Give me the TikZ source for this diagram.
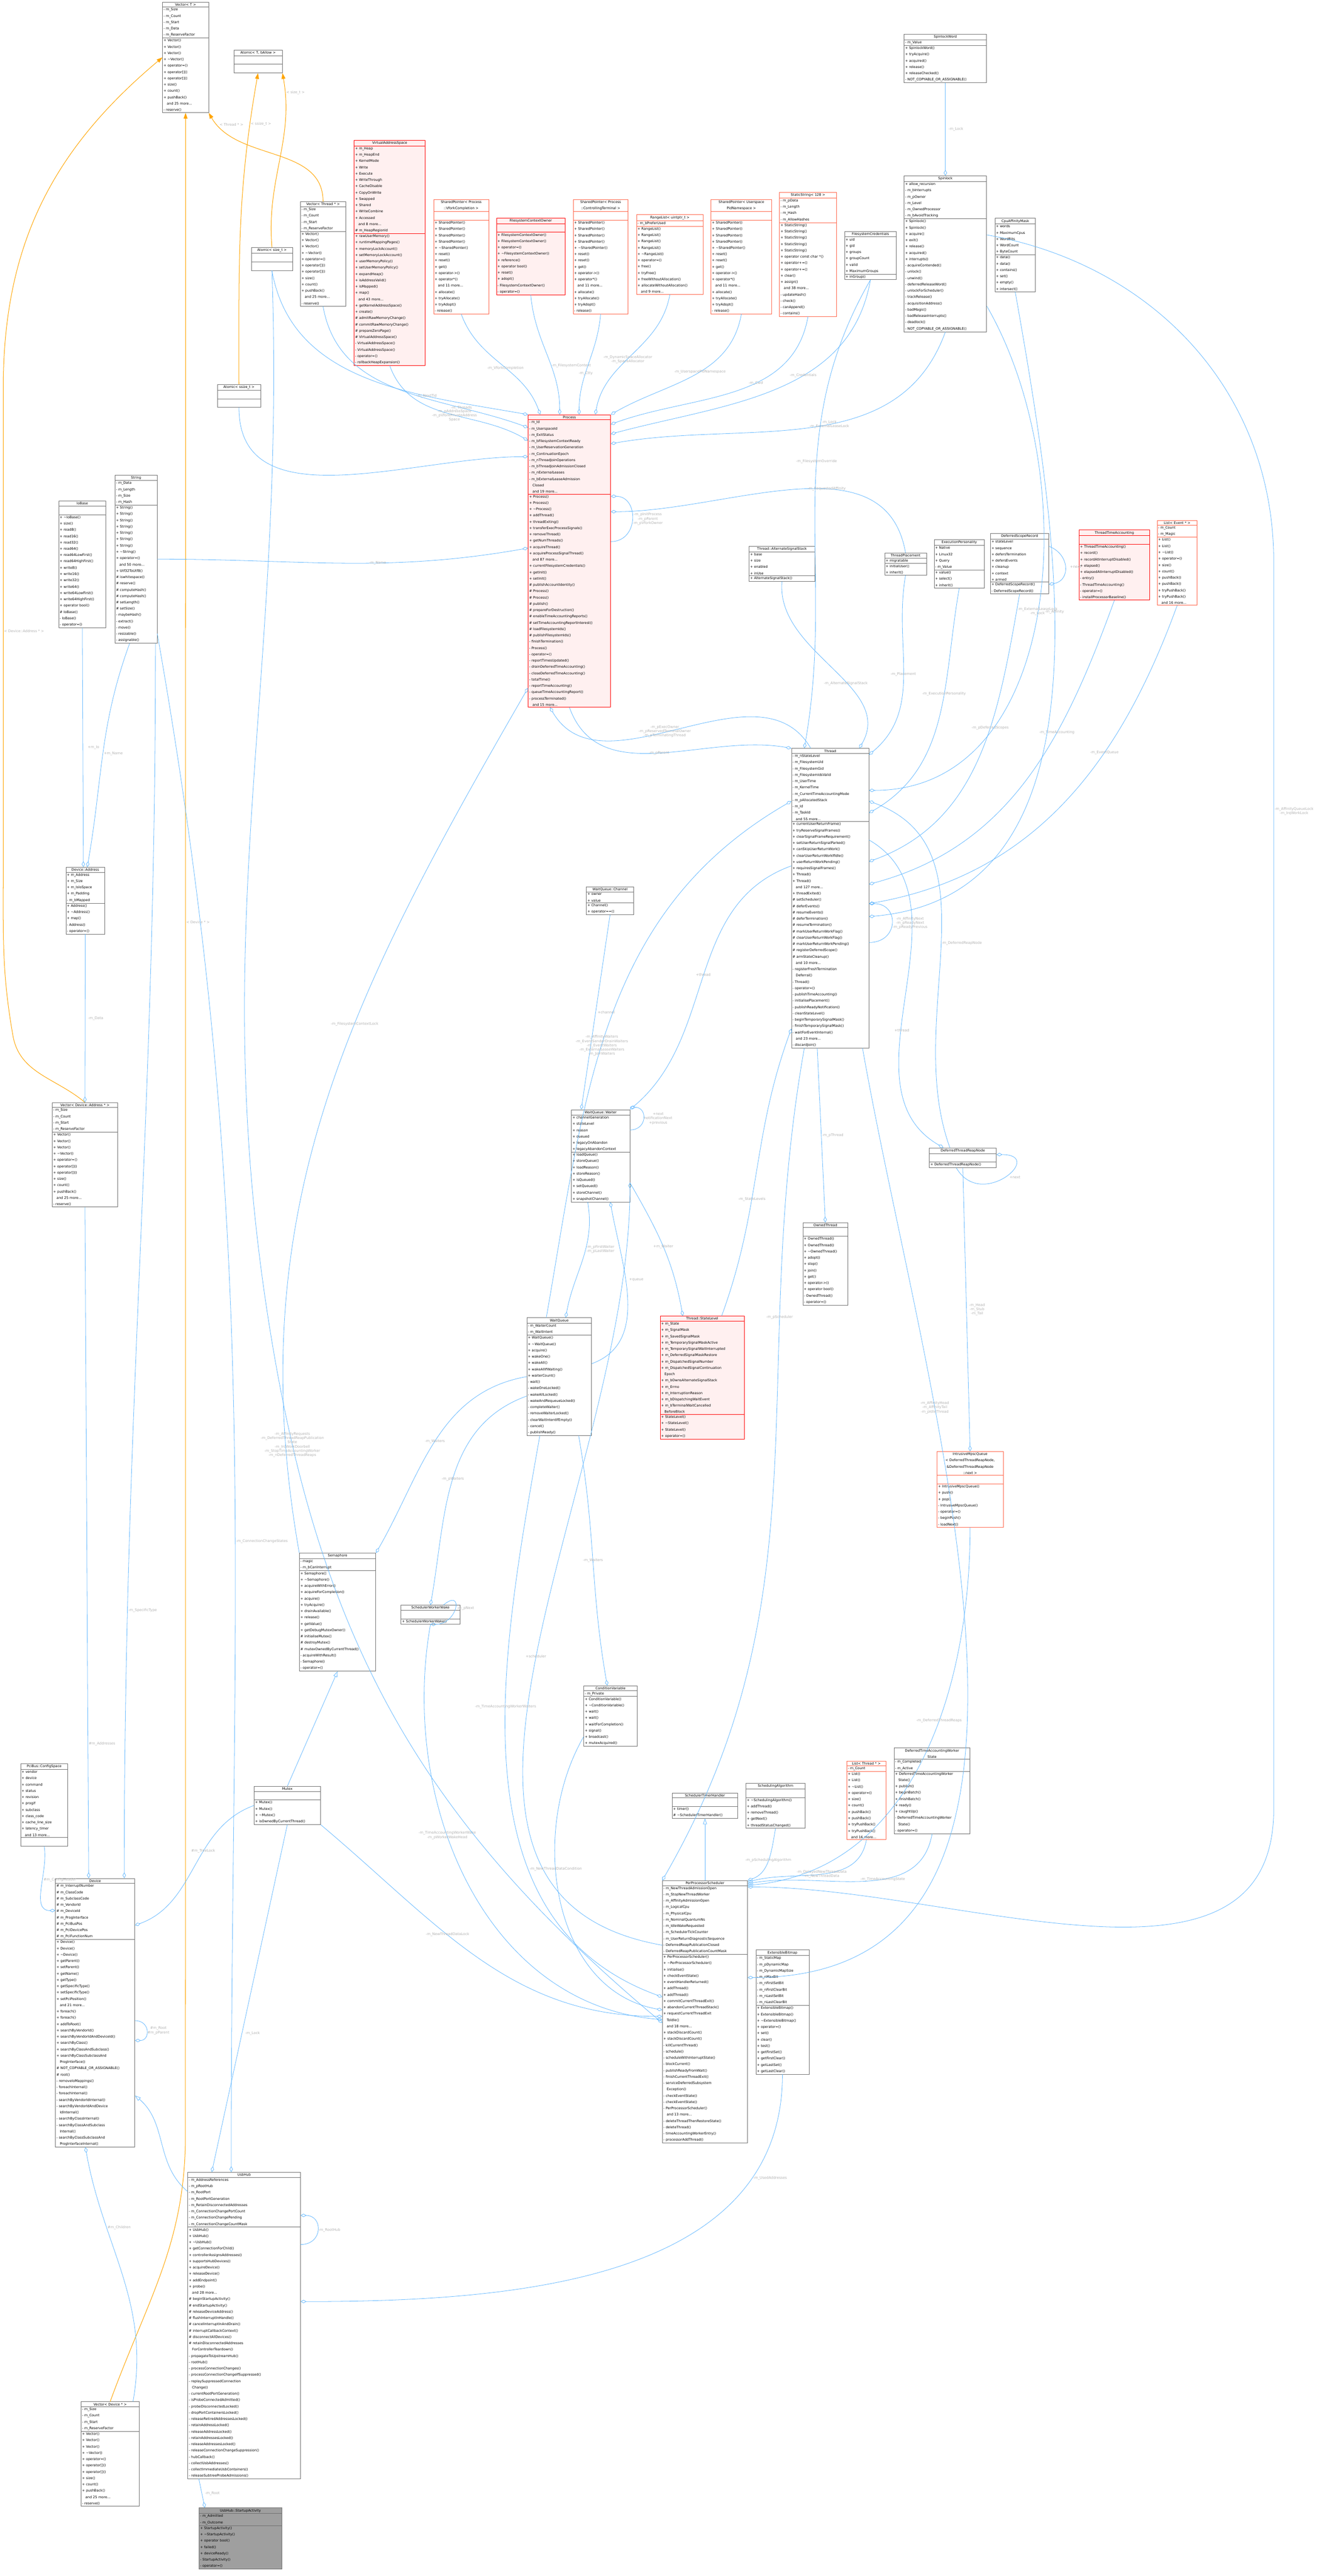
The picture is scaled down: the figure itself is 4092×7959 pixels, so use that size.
\documentclass[border=0pt]{standalone}
\usepackage{tikz}
\usepackage{fontspec}
\setmainfont{DejaVu Sans}
\usetikzlibrary{shapes.multipart,arrows.meta}
\definecolor{edgeblue}{RGB}{99,184,255}
\definecolor{boxgray}{RGB}{110,110,110}
\definecolor{pinkfill}{RGB}{255,240,240}
\definecolor{orangered}{RGB}{255,99,71}
\definecolor{tmplor}{RGB}{255,165,0}
\newcommand\cf{\fontsize{0.164}{0.3047}\selectfont}
\newcommand\lf{\fontsize{0.172}{0.203}\selectfont}
\newcommand\ttl[1]{{\centering #1\par}}
\tikzset{
 cls/.style={rectangle split, rectangle split parts=3, draw=boxgray, fill=white, line width=0.018pt,
   /utils/exec={\pgfmathsetlengthmacro\clsw{#1/64}}, text width=\clsw, align=left, inner sep=0.047pt, anchor=north west, font=\cf},
 redc/.style={draw=red, fill=pinkfill},
 orc/.style={draw=orangered},
 grayc/.style={fill=gray!75},
 agg/.style={draw=edgeblue, line width=0.02pt, -{Diamond[open,length=0.28pt,width=0.16pt,line width=0.02pt]}},
 inh/.style={draw=edgeblue, line width=0.02pt, -{Triangle[open,length=0.28pt,width=0.19pt,line width=0.02pt]}},
 tmpl/.style={draw=tmplor, line width=0.025pt, -{Triangle[length=0.28pt,width=0.19pt]}},
 lbl/.style={font=\lf, text=gray!60, align=center, fill=none, inner sep=0.03pt}
}
\begin{document}
\scalebox{64}{%
\begin{tikzpicture}[x=0.015625pt,y=-0.015625pt]
\useasboundingbox (0,0) rectangle (4092,7959);
\fill[white] (0,0) rectangle (4092,7959);
% ---------- top row
\node[cls=136pt] (VecT) at (502,6) {\ttl{Vector< T >}\nodepart{two}- m\_Size\\- m\_Count\\- m\_Start\\- m\_Data\\- m\_ReserveFactor\nodepart{three}+ Vector()\\+ Vector()\\+ Vector()\\+ \textasciitilde Vector()\\+ operator=()\\+ operator[]()\\+ operator[]()\\+ size()\\+ count()\\+ pushBack()\\\ \ \ and 25 more...\\- reserve()};
\node[cls=144pt] (AtomicT) at (722,155) {\ttl{Atomic< T, bAllow >}\nodepart{two}\strut\nodepart{three}\strut};
\node[cls=214pt,redc] (VAS) at (1094,433) {\ttl{VirtualAddressSpace}\nodepart{two}+ m\_Heap\\+ m\_HeapEnd\\+ KernelMode\\+ Write\\+ Execute\\+ WriteThrough\\+ CacheDisable\\+ CopyOnWrite\\+ Swapped\\+ Shared\\+ WriteCombine\\+ Accessed\\\ \ \ and 8 more...\\\# m\_HeapRegionId\nodepart{three}+ rawUserMemory()\\+ runtimeMappingPages()\\+ memoryLockAccount()\\+ setMemoryLockAccount()\\+ userMemoryPolicy()\\+ setUserMemoryPolicy()\\+ expandHeap()\\+ isAddressValid()\\+ isMapped()\\+ map()\\\ \ \ and 43 more...\\+ getKernelAddressSpace()\\+ create()\\\# admitRawMemoryChange()\\\# commitRawMemoryChange()\\\# prepareZeroPage()\\\# VirtualAddressSpace()\\- VirtualAddressSpace()\\- VirtualAddressSpace()\\- operator=()\\- rollbackHeapExpansion()};
\node[cls=134pt] (VecThr) at (928,623) {\ttl{Vector< Thread * >}\nodepart{two}- m\_Size\\- m\_Count\\- m\_Start\\- m\_ReserveFactor\nodepart{three}+ Vector()\\+ Vector()\\+ Vector()\\+ \textasciitilde Vector()\\+ operator=()\\+ operator[]()\\+ operator[]()\\+ size()\\+ count()\\+ pushBack()\\\ \ \ and 25 more...\\- reserve()};
\node[cls=122pt] (AtomicS) at (776,764) {\ttl{Atomic< size\_t >}\nodepart{two}\strut\nodepart{three}\strut};
\node[cls=128pt] (AtomicSS) at (671,1187) {\ttl{Atomic< ssize\_t >}\nodepart{two}\strut\nodepart{three}\strut};
\node[cls=164pt,orc] (SPV) at (1340,616) {\ttl{SharedPointer< Process\\::VforkCompletion >}\nodepart{two}\strut\nodepart{three}+ SharedPointer()\\+ SharedPointer()\\+ SharedPointer()\\+ SharedPointer()\\+ \textasciitilde SharedPointer()\\+ reset()\\+ reset()\\+ get()\\+ operator->()\\+ operator*()\\\ \ \ and 11 more...\\+ allocate()\\+ tryAllocate()\\+ tryAdopt()\\- release()};
\node[cls=206pt,redc] (FSCO) at (1534,673) {\ttl{FilesystemContextOwner}\nodepart{two}\strut\nodepart{three}+ FilesystemContextOwner()\\+ FilesystemContextOwner()\\+ operator=()\\+ \textasciitilde FilesystemContextOwner()\\+ reference()\\+ operator bool()\\+ reset()\\+ adopt()\\- FilesystemContextOwner()\\- operator=()};
\node[cls=164pt,orc] (SPC) at (1771,616) {\ttl{SharedPointer< Process\\::ControllingTerminal >}\nodepart{two}\strut\nodepart{three}+ SharedPointer()\\+ SharedPointer()\\+ SharedPointer()\\+ SharedPointer()\\+ \textasciitilde SharedPointer()\\+ reset()\\+ reset()\\+ get()\\+ operator->()\\+ operator*()\\\ \ \ and 11 more...\\+ allocate()\\+ tryAllocate()\\+ tryAdopt()\\- release()};
\node[cls=200pt,orc] (RL) at (1967,663) {\ttl{RangeList< uintptr\_t >}\nodepart{two}- m\_bPreferUsed\nodepart{three}+ RangeList()\\+ RangeList()\\+ RangeList()\\+ RangeList()\\+ \textasciitilde RangeList()\\+ operator=()\\+ free()\\+ tryFree()\\+ freeWithoutAllocation()\\+ allocateWithoutAllocation()\\\ \ \ and 9 more...};
\node[cls=182pt,orc] (SPU) at (2197,616) {\ttl{SharedPointer< Userspace\\PidNamespace >}\nodepart{two}\strut\nodepart{three}+ SharedPointer()\\+ SharedPointer()\\+ SharedPointer()\\+ SharedPointer()\\+ \textasciitilde SharedPointer()\\+ reset()\\+ reset()\\+ get()\\+ operator->()\\+ operator*()\\\ \ \ and 11 more...\\+ allocate()\\+ tryAllocate()\\+ tryAdopt()\\- release()};
\node[cls=170pt,orc] (SS) at (2409,594) {\ttl{StaticString< 128 >}\nodepart{two}- m\_pData\\- m\_Length\\- m\_Hash\\- m\_AllowHashes\nodepart{three}+ StaticString()\\+ StaticString()\\+ StaticString()\\+ StaticString()\\+ StaticString()\\+ operator const char *()\\+ operator+=()\\+ operator+=()\\+ clear()\\+ assign()\\\ \ \ and 38 more...\\- updateHash()\\- check()\\- canAppend()\\- contains()};
\node[cls=154pt] (FSC) at (2610,714) {\ttl{FilesystemCredentials}\nodepart{two}+ uid\\+ gid\\+ groups\\+ groupCount\\+ valid\\+ MaximumGroups\nodepart{three}+ inGroup()};
\node[cls=249pt] (SLW) at (2794,105) {\ttl{SpinlockWord}\nodepart{two}- m\_Value\nodepart{three}+ SpinlockWord()\\+ tryAcquire()\\+ acquired()\\+ release()\\+ releaseChecked()\\- NOT\_COPYABLE\_OR\_ASSIGNABLE()};
\node[cls=249pt] (SL) at (2794,543) {\ttl{Spinlock}\nodepart{two}+ allow\_recursion\\- m\_bInterrupts\\- m\_pOwner\\- m\_Level\\- m\_OwnedProcessor\\- m\_bAvoidTracking\nodepart{three}+ Spinlock()\\+ Spinlock()\\+ acquire()\\+ exit()\\+ release()\\+ acquired()\\+ interrupts()\\- acquireContended()\\- unlock()\\- unwind()\\- deferredReleaseWord()\\- unlockForScheduler()\\- trackRelease()\\- acquisitionAddress()\\- badMagic()\\- badReleaseInterrupts()\\- deadlock()\\- NOT\_COPYABLE\_OR\_ASSIGNABLE()};
\node[cls=119pt] (CAM) at (3075,674) {\ttl{CpuAffinityMask}\nodepart{two}+ words\\+ MaximumCpus\\+ WordBits\\+ WordCount\\+ ByteCount\nodepart{three}+ data()\\+ data()\\+ contains()\\+ set()\\+ empty()\\+ intersect()};
% ---------- Process
\node[cls=249pt,redc] (Proc) at (1632,1281) {\ttl{Process}\nodepart{two}- m\_Id\\- m\_UserspaceId\\- m\_ExitStatus\\- m\_bFilesystemContextReady\\- m\_UserReservationGeneration\\- m\_ContinuationEpoch\\- m\_nThreadJoinOperations\\- m\_bThreadJoinAdmissionClosed\\- m\_nExternalLeases\\- m\_bExternalLeaseAdmission\\\ \ \ Closed\\\ \ \ and 19 more...\nodepart{three}+ Process()\\+ Process()\\+ \textasciitilde Process()\\+ addThread()\\+ threadExiting()\\+ transferExecProcessSignals()\\+ removeThread()\\+ getNumThreads()\\+ acquireThread()\\+ acquireProcessSignalThread()\\\ \ \ and 87 more...\\+ currentFilesystemCredentials()\\+ getInit()\\+ setInit()\\\# publishAccountIdentity()\\\# Process()\\\# Process()\\\# publish()\\\# prepareForDestruction()\\\# enableTimeAccountingReports()\\\# setTimeAccountingReportInterest()\\\# loadFilesystemIds()\\\# publishFilesystemIds()\\- finishTermination()\\- Process()\\- operator=()\\- reportTimesUpdated()\\- drainDeferredTimeAccounting()\\- closeDeferredTimeAccounting()\\- totalTime()\\- reportTimeAccounting()\\- queueTimeAccountingReport()\\- processTerminated()\\\ \ \ and 15 more...};
% ---------- middle row right
\node[cls=197pt] (ASS) at (2315,1687) {\ttl{Thread::AlternateSignalStack}\nodepart{two}+ base\\+ size\\+ enabled\\+ inUse\nodepart{three}+ AlternateSignalStack()};
\node[cls=123pt] (TP) at (2734,1708) {\ttl{ThreadPlacement}\nodepart{two}+ migratable\nodepart{three}+ initialUser()\\+ inherit()};
\node[cls=149pt] (EP) at (2887,1667) {\ttl{ExecutionPersonality}\nodepart{two}+ Native\\+ Linux32\\+ Query\\- m\_Value\nodepart{three}+ value()\\+ select()\\+ inherit()};
\node[cls=174pt] (DSR) at (3061,1648) {\ttl{DeferredScopeRecord}\nodepart{two}+ stateLevel\\+ sequence\\+ defersTermination\\+ defersEvents\\+ cleanup\\+ context\\+ armed\nodepart{three}+ DeferredScopeRecord()\\- DeferredScopeRecord()};
\node[cls=212pt,redc] (TTA) at (3335,1637) {\ttl{ThreadTimeAccounting}\nodepart{two}\strut\nodepart{three}+ ThreadTimeAccounting()\\+ record()\\+ recordAtInterruptDisabled()\\+ elapsed()\\+ elapsedAtInterruptDisabled()\\- entry()\\- ThreadTimeAccounting()\\- operator=()\\- installProcessorBaseline()};
\node[cls=118pt,orc] (LE) at (3576,1607) {\ttl{List< Event * >}\nodepart{two}- m\_Count\\- m\_Magic\nodepart{three}+ List()\\+ List()\\+ \textasciitilde List()\\+ operator=()\\+ size()\\+ count()\\+ pushBack()\\+ pushBack()\\+ tryPushBack()\\+ tryPushBack()\\\ \ \ and 16 more...};
% ---------- left column
\node[cls=140pt] (Io) at (181,1548) {\ttl{IoBase}\nodepart{two}\strut\nodepart{three}+ \textasciitilde IoBase()\\+ size()\\+ read8()\\+ read16()\\+ read32()\\+ read64()\\+ read64LowFirst()\\+ read64HighFirst()\\+ write8()\\+ write16()\\+ write32()\\+ write64()\\+ write64LowFirst()\\+ write64HighFirst()\\+ operator bool()\\\# IoBase()\\- IoBase()\\- operator=()};
\node[cls=124pt] (Str) at (355,1467) {\ttl{String}\nodepart{two}- m\_Data\\- m\_Length\\- m\_Size\\- m\_Hash\nodepart{three}+ String()\\+ String()\\+ String()\\+ String()\\+ String()\\+ String()\\+ String()\\+ \textasciitilde String()\\+ operator=()\\\ \ \ and 50 more...\\+ Utf32ToUtf8()\\\# iswhitespace()\\\# reserve()\\\# computeHash()\\\# computeHash()\\\# setLength()\\\# setSize()\\- maybeHash()\\- extract()\\- move()\\- resizable()\\- assignable()};
\node[cls=114pt] (DA) at (203,2679) {\ttl{Device::Address}\nodepart{two}+ m\_Address\\+ m\_Size\\+ m\_IsIoSpace\\+ m\_Padding\\- m\_bMapped\nodepart{three}+ Address()\\+ \textasciitilde Address()\\+ map()\\- Address()\\- operator=()};
\node[cls=196pt] (VDA) at (161,3406) {\ttl{Vector< Device::Address * >}\nodepart{two}- m\_Size\\- m\_Count\\- m\_Start\\- m\_ReserveFactor\nodepart{three}+ Vector()\\+ Vector()\\+ Vector()\\+ \textasciitilde Vector()\\+ operator=()\\+ operator[]()\\+ operator[]()\\+ size()\\+ count()\\+ pushBack()\\\ \ \ and 25 more...\\- reserve()};
% ---------- Thread
\node[cls=233pt] (Thr) at (2446,2312) {\ttl{Thread}\nodepart{two}- m\_nStateLevel\\- m\_FilesystemUid\\- m\_FilesystemGid\\- m\_FilesystemIdsValid\\- m\_UserTime\\- m\_KernelTime\\- m\_CurrentTimeAccountingMode\\- m\_pAllocatedStack\\- m\_Id\\- m\_TaskId\\\ \ \ and 55 more...\nodepart{three}+ currentUserReturnFrame()\\+ tryReserveSignalFrames()\\+ clearSignalFrameRequirement()\\+ setUserReturnSignalParked()\\+ canSkipUserReturnWork()\\+ clearUserReturnWorkIfIdle()\\+ userReturnWorkPending()\\+ requiresSignalFrames()\\+ Thread()\\+ Thread()\\\ \ \ and 127 more...\\+ threadExited()\\\# setScheduler()\\\# deferEvents()\\\# resumeEvents()\\\# deferTermination()\\\# resumeTermination()\\\# markUserReturnWorkFlag()\\\# clearUserReturnWorkFlag()\\\# markUserReturnWorkPending()\\\# registerDeferredScope()\\\# armStateCleanup()\\\ \ \ and 10 more...\\- registerFreshTermination\\\ \ \ Deferral()\\- Thread()\\- operator=()\\- publishTimeAccounting()\\- initialisePlacement()\\- publishReadyNotification()\\- cleanStateLevel()\\- beginTemporarySignalMask()\\- finishTemporarySignalMask()\\- waitForEventInternal()\\\ \ \ and 23 more...\\- discardJoin()};
\node[cls=140pt] (Ch) at (1812,2739) {\ttl{WaitQueue::Channel}\nodepart{two}+ owner\\+ value\nodepart{three}+ Channel()\\+ operator==()};
\node[cls=174pt] (Wt) at (1766,3428) {\ttl{WaitQueue::Waiter}\nodepart{two}+ channelGeneration\\+ stateLevel\\+ reason\\+ queued\\+ legacyOnAbandon\\+ legacyAbandonContext\nodepart{three}+ loadQueue()\\+ storeQueue()\\+ loadReason()\\+ storeReason()\\+ isQueued()\\+ setQueued()\\+ storeChannel()\\+ snapshotChannel()};
\node[cls=201pt] (DTRN) at (2872,3546) {\ttl{DeferredThreadReapNode}\nodepart{two}\strut\nodepart{three}+ DeferredThreadReapNode()};
\node[cls=133pt] (OT) at (2481,3777) {\ttl{OwnedThread}\nodepart{two}\strut\nodepart{three}+ OwnedThread()\\+ OwnedThread()\\+ \textasciitilde OwnedThread()\\+ adopt()\\+ stop()\\+ join()\\+ get()\\+ operator->()\\+ operator bool()\\- OwnedThread()\\- operator=()};
\node[cls=254pt,redc] (StL) at (2040,4066) {\ttl{Thread::StateLevel}\nodepart{two}+ m\_State\\+ m\_SignalMask\\+ m\_SavedSignalMask\\+ m\_TemporarySignalMaskActive\\+ m\_TemporarySignalWaitInterrupted\\+ m\_DeferredSignalMaskRestore\\+ m\_DispatchedSignalNumber\\+ m\_DispatchedSignalContinuation\\\ \ \ Epoch\\+ m\_bOwnsAlternateSignalStack\\+ m\_Errno\\+ m\_InterruptionReason\\+ m\_bDispatchingWaitEvent\\+ m\_bTerminalWaitCancelled\\\ \ \ BeforeBlock\nodepart{three}+ StateLevel()\\+ \textasciitilde StateLevel()\\+ StateLevel()\\+ operator=()};
\node[cls=198pt,orc] (IMQ) at (2896,4484) {\ttl{IntrusiveMpscQueue\\< DeferredThreadReapNode,\\ \&DeferredThreadReapNode\\::next >}\nodepart{two}\strut\nodepart{three}+ IntrusiveMpscQueue()\\+ push()\\+ pop()\\- IntrusiveMpscQueue()\\- operator=()\\- beginPush()\\- loadNext()};
\node[cls=194pt] (WQ) at (1628,4071) {\ttl{WaitQueue}\nodepart{two}- m\_WaiterCount\\- m\_WaitIntent\nodepart{three}+ WaitQueue()\\+ \textasciitilde WaitQueue()\\+ acquire()\\+ wakeOne()\\+ wakeAll()\\+ wakeAllIfWaiting()\\+ waiterCount()\\- wait()\\- wakeOneLocked()\\- wakeAllLocked()\\- wakeAndRequeueLocked()\\- completeWaiter()\\- removeWaiterLocked()\\- clearWaitIntentIfEmpty()\\- cancel()\\- publishReady()};
\node[cls=230pt] (Sem) at (925,4798) {\ttl{Semaphore}\nodepart{two}- magic\\- m\_bCanInterrupt\nodepart{three}+ Semaphore()\\+ \textasciitilde Semaphore()\\+ acquireWithError()\\+ acquireForCompletion()\\+ acquire()\\+ tryAcquire()\\+ drainAvailable()\\+ release()\\+ getValue()\\+ getDebugMutexOwner()\\\# initialiseMutex()\\\# destroyMutex()\\\# mutexOwnedByCurrentThread()\\- acquireWithResult()\\- Semaphore()\\- operator=()};
\node[cls=176pt] (SWW) at (1239,4959) {\ttl{SchedulerWorkerWake}\nodepart{two}\strut\nodepart{three}+ SchedulerWorkerWake()};
\node[cls=159pt] (CV) at (1804,5208) {\ttl{ConditionVariable}\nodepart{two}- m\_Private\nodepart{three}+ ConditionVariable()\\+ \textasciitilde ConditionVariable()\\+ wait()\\+ wait()\\+ waitForCompletion()\\+ signal()\\+ broadcast()\\+ mutexAcquired()};
\node[cls=199pt] (Mtx) at (785,5519) {\ttl{Mutex}\nodepart{two}\strut\nodepart{three}+ Mutex()\\+ Mutex()\\+ \textasciitilde Mutex()\\+ isOwnedByCurrentThread()};
\node[cls=197pt] (STH) at (2077,5539) {\ttl{SchedulerTimerHandler}\nodepart{two}\strut\nodepart{three}+ timer()\\\# \textasciitilde SchedulerTimerHandler()};
\node[cls=177pt] (SA) at (2305,5509) {\ttl{SchedulingAlgorithm}\nodepart{two}\strut\nodepart{three}+ \textasciitilde SchedulingAlgorithm()\\+ addThread()\\+ removeThread()\\+ getNext()\\+ threadStatusChanged()};
\node[cls=115pt,orc] (LT) at (2617,5440) {\ttl{List< Thread * >}\nodepart{two}- m\_Count\nodepart{three}+ List()\\+ List()\\+ \textasciitilde List()\\+ operator=()\\+ size()\\+ count()\\+ pushBack()\\+ pushBack()\\+ tryPushBack()\\+ tryPushBack()\\\ \ \ and 16 more...};
\node[cls=229pt] (DTA) at (2763,5400) {\ttl{DeferredTimeAccountingWorker\\State}\nodepart{two}- m\_Completed\\- m\_Active\nodepart{three}+ DeferredTimeAccountingWorker\\\ \ \ State()\\+ publish()\\+ beginBatch()\\+ finishBatch()\\+ ready()\\+ caughtUp()\\- DeferredTimeAccountingWorker\\\ \ \ State()\\- operator=()};
\node[cls=257pt] (PPS) at (2047,5810) {\ttl{PerProcessorScheduler}\nodepart{two}- m\_NewThreadAdmissionOpen\\- m\_StopNewThreadWorker\\- m\_AffinityAdmissionOpen\\- m\_LogicalCpu\\- m\_PhysicalCpu\\- m\_NominalQuantumNs\\- m\_IdleWakeRequested\\- m\_SchedulerTickCounter\\- m\_UserReturnDiagnosticSequence\\- DeferredReapPublicationClosed\\- DeferredReapPublicationCountMask\nodepart{three}+ PerProcessorScheduler()\\+ \textasciitilde PerProcessorScheduler()\\+ initialise()\\+ checkEventState()\\+ eventHandlerReturned()\\+ addThread()\\+ addThread()\\+ commitCurrentThreadExit()\\+ abandonCurrentThreadStack()\\+ requestCurrentThreadExit\\\ \ \ ToIdle()\\\ \ \ and 18 more...\\+ stackDiscardCount()\\+ stackDiscardCount()\\- killCurrentThread()\\- schedule()\\- scheduleWithInterruptState()\\- blockCurrent()\\- publishReadyFromWait()\\- finishCurrentThreadExit()\\- serviceDeferredSubsystem\\\ \ \ Exception()\\- checkEventState()\\- checkEventState()\\- PerProcessorScheduler()\\\ \ \ and 13 more...\\- deleteThreadThenRestoreState()\\- deleteThread()\\- timeAccountingWorkerEntry()\\- processorAddThread()};
\node[cls=158pt] (EB) at (2336,6024) {\ttl{ExtensibleBitmap}\nodepart{two}- m\_StaticMap\\- m\_pDynamicMap\\- m\_DynamicMapSize\\- m\_nMaxBit\\- m\_nFirstSetBit\\- m\_nFirstClearBit\\- m\_nLastSetBit\\- m\_nLastClearBit\nodepart{three}+ ExtensibleBitmap()\\+ ExtensibleBitmap()\\+ \textasciitilde ExtensibleBitmap()\\+ operator=()\\+ set()\\+ clear()\\+ test()\\+ getFirstSet()\\+ getFirstClear()\\+ getLastSet()\\+ getLastClear()};
% ---------- bottom left
\node[cls=140pt] (Pci) at (63,5449) {\ttl{PciBus::ConfigSpace}\nodepart{two}+ vendor\\+ device\\+ command\\+ status\\+ revision\\+ progif\\+ subclass\\+ class\_code\\+ cache\_line\_size\\+ latency\_timer\\\ \ \ and 13 more...\nodepart{three}\strut};
\node[cls=239pt] (Dev) at (171,5803) {\ttl{Device}\nodepart{two}\# m\_InterruptNumber\\\# m\_ClassCode\\\# m\_SubclassCode\\\# m\_VendorId\\\# m\_DeviceId\\\# m\_ProgInterface\\\# m\_PciBusPos\\\# m\_PciDevicePos\\\# m\_PciFunctionNum\nodepart{three}+ Device()\\+ Device()\\+ \textasciitilde Device()\\+ getParent()\\+ setParent()\\+ getName()\\+ getType()\\+ getSpecificType()\\+ setSpecificType()\\+ setPciPosition()\\\ \ \ and 21 more...\\+ foreach()\\+ foreach()\\+ addToRoot()\\+ searchByVendorId()\\+ searchByVendorIdAndDeviceId()\\+ searchByClass()\\+ searchByClassAndSubclass()\\+ searchByClassSubclassAnd\\\ \ \ ProgInterface()\\\# NOT\_COPYABLE\_OR\_ASSIGNABLE()\\\# root()\\- removeIoMappings()\\- foreachInternal()\\- foreachInternal()\\- searchByVendorIdInternal()\\- searchByVendorIdAndDevice\\\ \ \ IdInternal()\\- searchByClassInternal()\\- searchByClassAndSubclass\\\ \ \ Internal()\\- searchByClassSubclassAnd\\\ \ \ ProgInterfaceInternal()};
\node[cls=174pt] (VD) at (250,7420) {\ttl{Vector< Device * >}\nodepart{two}- m\_Size\\- m\_Count\\- m\_Start\\- m\_ReserveFactor\nodepart{three}+ Vector()\\+ Vector()\\+ Vector()\\+ \textasciitilde Vector()\\+ operator=()\\+ operator[]()\\+ operator[]()\\+ size()\\+ count()\\+ pushBack()\\\ \ \ and 25 more...\\- reserve()};
\node[cls=342pt] (Usb) at (580,6711) {\ttl{UsbHub}\nodepart{two}- m\_AddressReferences\\- m\_pRootHub\\- m\_RootPort\\- m\_RootPortGeneration\\- m\_RetainDisconnectedAddresses\\- m\_ConnectionChangePortCount\\- m\_ConnectionChangePending\\- m\_ConnectionChangeCountMask\nodepart{three}+ UsbHub()\\+ UsbHub()\\+ \textasciitilde UsbHub()\\+ getConnectionForChild()\\+ controllerAssignsAddresses()\\+ supportsHubDevices()\\+ acquireDevice()\\+ releaseDevice()\\+ addEndpoint()\\+ probe()\\\ \ \ and 28 more...\\\# beginStartupActivity()\\\# endStartupActivity()\\\# releaseDeviceAddress()\\\# flushInterruptInHandle()\\\# cancelInterruptInAndDrain()\\\# interruptCallbackContext()\\\# disconnectAllDevices()\\\# retainDisconnectedAddresses\\\ \ \ ForControllerTeardown()\\- propagateToUpstreamHub()\\- rootHub()\\- processConnectionChanges()\\- processConnectionChangeIfSuppressed()\\- replaySuppressedConnection\\\ \ \ Change()\\- currentRootPortGeneration()\\- isProbeConnectedAdmitted()\\- probeDisconnectedLocked()\\- dropPortContainersLocked()\\- releaseRetiredAddressesLocked()\\- retainAddressLocked()\\- releaseAddressLocked()\\- retainAddressesLocked()\\- releaseAddressesLocked()\\- releaseConnectionChangeSuppression()\\- hubCallback()\\- collectUsbAddresses()\\- collectImmediateUsbContainers()\\- releaseSubtreeProbeAdmissions()};
\node[cls=249pt,grayc] (SU) at (615,7748) {\ttl{UsbHub::StartupActivity}\nodepart{two}- m\_Admitted\\- m\_Outcome\nodepart{three}+ StartupActivity()\\+ \textasciitilde StartupActivity()\\+ operator bool()\\+ failed()\\+ deviceReady()\\- StartupActivity()\\- operator=()};
% ---------- template edges
\coordinate (tA) at (40,3200);
\coordinate (tL) at (10,2700);
\coordinate (tT) at (10,1200);
\coordinate (tM) at (573,6600);
\draw[tmpl] (VecThr.north) to[out=90,in=-60] node[lbl,pos=0.8,above]{< Thread * >} (VecT.south east);
\draw[tmpl] (AtomicSS.north) to[out=90,in=-100] node[lbl,pos=0.85,right]{< ssize\_t >} (AtomicT.south);
\draw[tmpl] (AtomicS.north) to[out=95,in=-80] node[lbl,pos=0.9,right]{< size\_t >} (AtomicT.south east);
\draw[tmpl] (VDA.north) to[out=140,in=-80] (tA) to[out=100,in=-90] (tL) -- node[lbl,pos=0.5,right]{< Device::Address * >} (tT) to[out=90,in=220] (VecT.west);
\draw[tmpl] (VD.north) to[out=70,in=-90] (tM) -- node[lbl,pos=0.6,right]{< Device * >} (VecT.south);
% ---------- aggregation edges
\draw[agg] (SLW.south) -- node[lbl,right]{-m\_Lock} (SL.north);
\draw[agg] (AtomicS.south) to[out=-80,in=170] node[lbl,pos=0.7]{-m\_NextTid} (Proc.north west);
\draw[agg] (VecThr.south) to[out=-80,in=160] node[lbl,pos=0.75]{-m\_Threads} ([shift={(0,40)}]Proc.north west);
\draw[agg] (VAS.south) to[out=-70,in=150] node[lbl,pos=0.55]{-m\_pAddressSpace\\-m\_pVforkPrivateAddress\\Space} ([shift={(0,80)}]Proc.north west);
\draw[agg] (SPV.south) to[out=-70,in=110] node[lbl,pos=0.55]{-m\_VforkCompletion} ([shift={(-90,0)}]Proc.north);
\draw[agg] (FSCO.south) to[out=-85,in=90] node[lbl,pos=0.6,right]{-m\_FilesystemContext} ([shift={(-30,0)}]Proc.north);
\draw[agg] (SPC.south) to[out=-95,in=90] node[lbl,pos=0.6]{-m\_Ctty} ([shift={(30,0)}]Proc.north);
\draw[agg] (RL.south) to[out=-100,in=80] node[lbl,pos=0.55]{-m\_DynamicSpaceAllocator\\-m\_SpaceAllocator} ([shift={(80,0)}]Proc.north);
\draw[agg] (SPU.south) to[out=-100,in=30] node[lbl,pos=0.45]{-m\_UserspacePidNamespace} (Proc.north east);
\draw[agg] (SS.south) to[out=-100,in=20] node[lbl,pos=0.4]{-m\_Cwd} ([shift={(0,30)}]Proc.north east);
\draw[agg] (FSC.south) to[out=-100,in=15] node[lbl,pos=0.4]{-m\_Credentials} ([shift={(0,60)}]Proc.north east);
\draw[agg] (SL.south) to[out=-110,in=10] node[lbl,pos=0.45]{-m\_Lock\\-m\_ExternalLeaseLock} ([shift={(0,90)}]Proc.north east);
\draw[agg] (AtomicSS.south) to[out=-90,in=180] ([shift={(0,130)}]Proc.north west);
\draw[agg] (Str.east) to[out=0,in=190] node[lbl,pos=0.6]{-m\_Name} ([shift={(0,-40)}]Proc.west);
\draw[agg] ([shift={(0,-60)}]Proc.east) to[out=0,in=0,looseness=1.6] node[lbl,right]{-m\_pInitProcess\\-m\_pParent\\-m\_pVforkOwner} ([shift={(0,-200)}]Proc.east);
\draw[agg] (Proc.south) to[out=-70,in=170] node[lbl,pos=0.5]{-m\_pParent} (Thr.north west);
\draw[agg] ([shift={(60,0)}]Thr.north west) to[out=120,in=-60] node[lbl,pos=0.55]{-m\_pExecOwner\\-m\_pReservedTerminalOwner\\-m\_pTerminatingThread} ([shift={(-60,0)}]Proc.south);
\draw[agg] (ASS.south) to[out=-95,in=60] node[lbl,pos=0.6]{-m\_AlternateSignalStack} ([shift={(-30,0)}]Thr.north east);
\draw[agg] (TP.south) to[out=-100,in=40] node[lbl,pos=0.5]{-m\_Placement} ([shift={(0,20)}]Thr.north east);
\draw[agg] (TP.north) to[out=100,in=0] node[lbl,pos=0.4]{-m\_RequestedAffinity} ([shift={(0,300)}]Proc.north east);
\draw[agg] (EP.south) to[out=-100,in=30] node[lbl,pos=0.4]{-m\_ExecutionPersonality} ([shift={(0,200)}]Thr.north east);
\draw[agg] (DSR.south) to[out=-100,in=20] node[lbl,pos=0.4]{-m\_pDeferredScopes} ([shift={(0,350)}]Thr.north east);
\draw[agg] ([shift={(0,40)}]DSR.north east) to[out=-20,in=10,looseness=1.5] node[lbl,right]{+next} ([shift={(0,-30)}]DSR.south east);
\draw[agg] (TTA.south) to[out=-110,in=15] node[lbl,pos=0.35]{-m\_TimeAccounting} ([shift={(0,420)}]Thr.north east);
\draw[agg] (LE.south) to[out=-110,in=10] node[lbl,pos=0.35]{-m\_EventQueue} ([shift={(0,480)}]Thr.north east);
\draw[agg] (CAM.south) to[out=-80,in=5] node[lbl,pos=0.4]{-m\_Affinity} ([shift={(0,520)}]Thr.north east);
\draw[agg] (FSC.south) to[out=-120,in=80] node[lbl,pos=0.4]{-m\_FilesystemOverride} ([shift={(-80,0)}]Thr.north);
\draw[agg] ([shift={(0,-80)}]SL.south east) to[out=-60,in=0] node[lbl,pos=0.5]{-m\_ExternalLeaseLock\\-m\_Lock} ([shift={(0,130)}]Thr.north east);
\draw[agg] ([shift={(0,600)}]Thr.north east) to[out=0,in=0,looseness=2] node[lbl,right]{-m\_AffinityNext\\-m\_pReadyNext\\-m\_pReadyPrevious} ([shift={(0,480)}]Thr.north east);
\draw[agg] (Ch.south) -- node[lbl,right]{+channel} ([shift={(-60,0)}]Wt.north);
\draw[agg] ([shift={(0,-100)}]Thr.west) to[out=200,in=40] node[lbl,pos=0.5]{+thread} (Wt.north east);
\draw[agg] ([shift={(0,-80)}]Wt.east) to[out=0,in=0,looseness=2] node[lbl,right]{+next\\notificationNext\\+previous} ([shift={(0,-150)}]Wt.east);
\draw[agg] ([shift={(-40,0)}]Wt.south) to[out=-80,in=80] node[lbl,pos=0.4,right]{-m\_pFirstWaiter\\-m\_pLastWaiter} ([shift={(20,0)}]WQ.north);
\draw[agg] ([shift={(0,-40)}]WQ.east) to[out=20,in=-80] node[lbl,pos=0.6,right]{+queue} ([shift={(30,0)}]Wt.south);
\draw[agg] ([shift={(0,-60)}]Wt.south east) to[out=-60,in=100] node[lbl,pos=0.5]{+m\_Waiter} ([shift={(-60,0)}]StL.north);
\draw[agg] ([shift={(60,0)}]StL.north) to[out=70,in=-110] node[lbl,pos=0.4]{-m\_StateLevels} ([shift={(0,-60)}]Thr.south west);
\draw[agg] ([shift={(-40,0)}]WQ.north) to[out=80,in=-150] node[lbl,pos=0.45]{-m\_AffinityWaiters\\-m\_EventSenderDrainWaiters\\-m\_EventWaiters\\-m\_ExternalLeaseWaiters\\-m\_JoinWaiters} ([shift={(0,-300)}]Thr.west);
\draw[agg] ([shift={(-40,0)}]Thr.south) -- node[lbl,right]{-m\_pThread} (OT.north);
\draw[agg] ([shift={(0,-180)}]Thr.east) to[out=-30,in=150] node[lbl,pos=0.6]{+thread} ([shift={(-60,0)}]DTRN.north);
\draw[agg] ([shift={(-40,0)}]DTRN.north) to[out=110,in=-20] node[lbl,pos=0.5,right]{-m\_DeferredReapNode} ([shift={(0,-300)}]Thr.east);
\draw[agg] ([shift={(-20,0)}]DTRN.south) to[out=-60,in=0,looseness=3] node[lbl,right]{+next} ([shift={(0,-10)}]DTRN.east);
\draw[agg] (DTRN.south) -- node[lbl,right]{-m\_Head\\-m\_Stub\\-m\_Tail} (IMQ.north);
\draw[agg] (WQ.west) to[out=190,in=60] node[lbl,pos=0.5]{-m\_Waiters} (Sem.north east);
\draw[agg] ([shift={(0,60)}]WQ.west) to[out=200,in=80] node[lbl,pos=0.5]{-m\_pWaiters} (SWW.north);
\draw[agg] ([shift={(60,0)}]WQ.south) to[out=-80,in=100] node[lbl,pos=0.5]{-m\_Waiters} ([shift={(-10,0)}]CV.north);
\draw[agg] ([shift={(40,0)}]SWW.north) to[out=40,in=0,looseness=3] node[lbl,right]{-m\_pNext} (SWW.south);
\draw[inh] (Mtx.north) -- (Sem.south);
\draw[inh] (PPS.north) -- (STH.south);
\draw[agg] (SA.south) to[out=-100,in=20] node[lbl,pos=0.5]{-m\_pSchedulingAlgorithm} (PPS.north east);
\draw[agg] (LT.south) to[out=-100,in=15] node[lbl,pos=0.5]{-m\_DelayedNewThreadData\\-m\_NewThreadData} ([shift={(0,5)}]PPS.north east);
\draw[agg] (DTA.south) to[out=-100,in=10] node[lbl,pos=0.4]{-m\_TimeAccountingState} ([shift={(0,10)}]PPS.north east);
\draw[agg] (IMQ.south) to[out=-90,in=5] node[lbl,pos=0.4]{-m\_DeferredThreadReaps} ([shift={(0,15)}]PPS.north east);
\coordinate (sq1) at (3937,1735);
\coordinate (sq2) at (3937,5590);
\draw[agg] ([shift={(0,-300)}]SL.south east) to[out=-10,in=90] (sq1) -- node[lbl,pos=0.2,right]{-m\_AffinityQueueLock\\-m\_IrqWorkLock} (sq2) to[out=-90,in=0] ([shift={(0,20)}]PPS.north east);
\draw[agg] ([shift={(-80,0)}]Thr.south) to[out=-100,in=60] node[lbl,pos=0.3]{-m\_pScheduler} (PPS.north west);
\draw[agg] ([shift={(100,0)}]Thr.south) to[out=-80,in=0] node[lbl,pos=0.3]{-m\_AffinityHead\\-m\_AffinityTail\\-m\_pIdleThread} ([shift={(0,300)}]PPS.north east);
\draw[agg] ([shift={(0,200)}]PPS.north west) to[out=170,in=-90] node[lbl,pos=0.5]{+scheduler} ([shift={(0,-60)}]Wt.south east);
\draw[agg] (Mtx.south east) to[out=-40,in=180] node[lbl,pos=0.4]{-m\_NewThreadDataLock} ([shift={(0,420)}]PPS.north west);
\draw[agg] ([shift={(0,-30)}]CV.south west) to[out=-120,in=170] node[lbl,pos=0.4]{-m\_NewThreadDataCondition} ([shift={(0,400)}]PPS.north west);
\draw[agg] (SWW.south) to[out=-100,in=175] node[lbl,pos=0.4]{-m\_TimeAccountingWorkerWake\\-m\_pWorkerWakeHead} ([shift={(0,430)}]PPS.north west);
\draw[agg] ([shift={(-60,0)}]WQ.south) to[out=-100,in=160] node[lbl,pos=0.4]{-m\_TimeAccountingWorkerWaiters} ([shift={(0,360)}]PPS.north west);
\coordinate (aR) at (850,4200);
\draw[agg] (AtomicS.south) to[out=-88,in=100] (aR) to[out=-80,in=140] node[lbl,pos=0.1]{-m\_AffinityRequests\\-m\_DeferredThreadReapPublication\\State\\-m\_IrqWorkDoorbell\\-m\_StopTimeAccountingWorker\\-m\_nDeferredThreadReaps} ([shift={(0,440)}]PPS.north west);
\draw[agg] (Sem.north west) to[out=100,in=-120] node[lbl,pos=0.6]{-m\_FilesystemContextLock} ([shift={(0,-60)}]Proc.south west);
\draw[agg] (EB.south) to[out=-90,in=0] node[lbl,pos=0.2,right]{-m\_UsedAddresses} ([shift={(0,400)}]Usb.north east);
\draw[agg] (Io.south) -- node[lbl,right]{+m\_Io} ([shift={(-6,0)}]DA.north);
\draw[agg] ([shift={(-20,0)}]Str.south) to[out=-110,in=80] node[lbl,right]{+m\_Name} ([shift={(6,0)}]DA.north);
\draw[agg] (DA.south) -- node[lbl,right]{-m\_Data} (VDA.north);
\draw[agg] (Pci.south) to[out=-80,in=180] node[lbl,pos=0.4,right]{\#m\_ConfigHeader} ([shift={(0,100)}]Dev.north west);
\draw[agg] (VDA.south) -- node[lbl,pos=0.8,right]{\#m\_Addresses} ([shift={(-20,0)}]Dev.north);
\draw[agg] ([shift={(60,0)}]Str.south) to[out=-90,in=90] node[lbl,pos=0.8,right]{-m\_SpecificType} ([shift={(90,0)}]Dev.north);
\draw[agg] (Mtx.west) to[out=200,in=20] node[lbl,pos=0.4]{\#m\_TreeLock} ([shift={(0,-270)}]Dev.east);
\draw[agg] ([shift={(0,440)}]Dev.north east) to[out=0,in=0,looseness=2] node[lbl,right]{\#m\_Root\\\#m\_pParent} ([shift={(0,-330)}]Dev.south east);
\draw[agg] ([shift={(-20,0)}]VD.north east) to[out=80,in=-80] node[lbl,pos=0.7,right]{\#m\_Children} ([shift={(-30,0)}]Dev.south);
\draw[inh] ([shift={(0,60)}]Usb.north west) to[out=140,in=-40] ([shift={(0,-160)}]Dev.south east);
\draw[agg] (Mtx.south) -- node[lbl,pos=0.6,right]{-m\_Lock} ([shift={(-100,0)}]Usb.north);
\draw[agg] ([shift={(0,-30)}]Str.south east) to[out=-80,in=90] node[lbl,pos=0.6,right]{-m\_ConnectionChangeStates} ([shift={(-40,0)}]Usb.north);
\draw[agg] ([shift={(0,-250)}]Usb.east) to[out=0,in=0,looseness=2] node[lbl,right]{-m\_RootHub} ([shift={(0,-340)}]Usb.east);
\draw[agg] ([shift={(-140,0)}]Usb.south) -- node[lbl,right]{-m\_Root} ([shift={(-110,0)}]SU.north);
\end{tikzpicture}}
\end{document}
